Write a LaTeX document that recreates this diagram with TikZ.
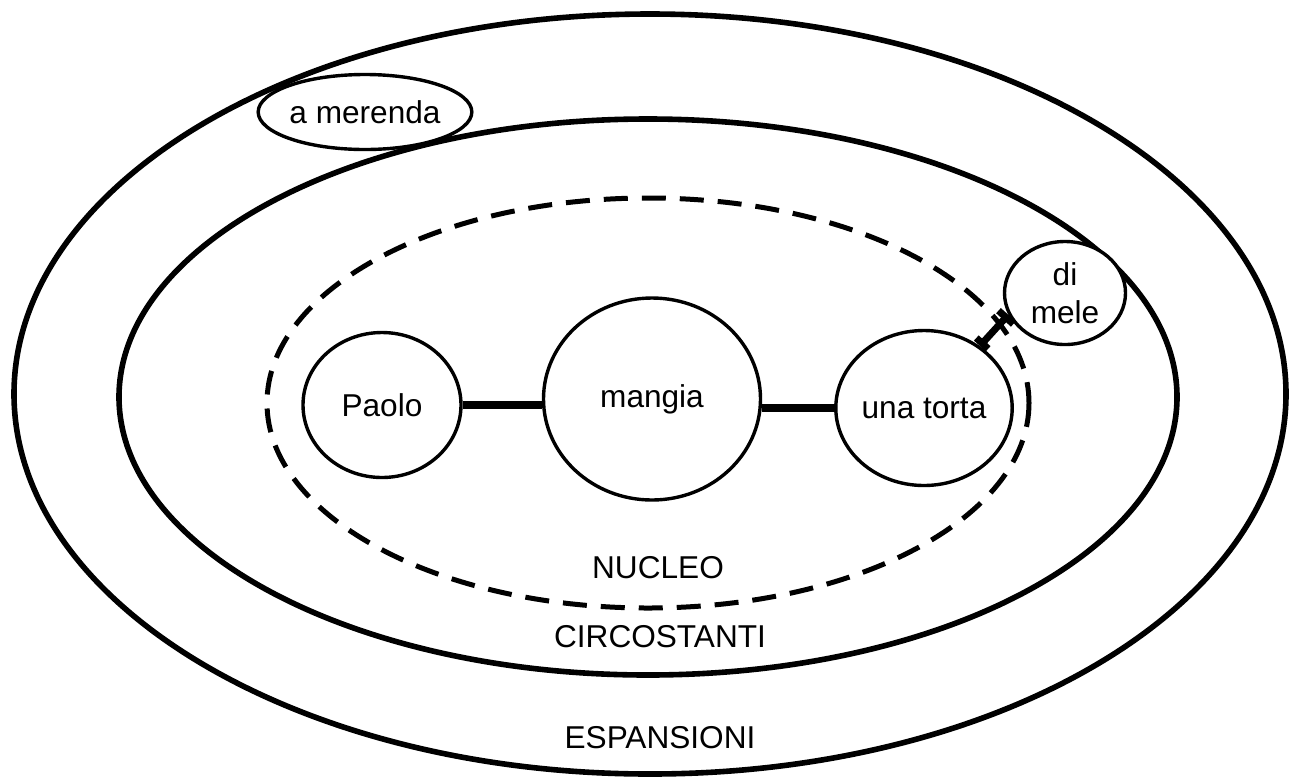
\documentclass[tikz,border=0pt]{standalone}
\usepackage{fontspec}
\setmainfont{Liberation Sans}
\usetikzlibrary{shapes.geometric,arrows.meta}

\begin{document}
\begin{tikzpicture}[x=0.5pt,y=-0.5pt,
        word/.style={draw,ellipse,line width=1.7pt,fill=white,inner sep=0pt,align=center,font=\fontsize{15.8}{19}\selectfont},
        level/.style={font=\fontsize{15.8}{19}\selectfont},
        link/.style={line width=3.8pt}]
        \useasboundingbox (0,0) rectangle (1290,778);
        % the three zones
        \draw[line width=2.8pt] (650,394) ellipse (636 and 380);
        \draw[line width=2.8pt] (648,397) ellipse (529 and 278);
        \draw[line width=2.5pt,dash pattern=on 12pt off 7pt] (648,403) ellipse (381 and 205);
        \node[level] (nucleo) at (658,568) {NUCLEO};
        \node[level] (circ) at (660,637) {CIRCOSTANTI};
        \node[level] (esp) at (660,738) {ESPANSIONI};
        % words
        \node[word,minimum width=79pt,minimum height=72.5pt] (paolo) at (382,405) {Paolo};
        \node[word,minimum width=108.5pt,minimum height=101pt] (mangia) at (652,399) {mangia};
        \node[word,minimum width=82pt,minimum height=77.5pt] (torta) at (924,408) {una torta};
        \node[word,minimum width=60.5pt,minimum height=51.5pt] (mele) at (1065,293) {di\\mele};
        \node[word,minimum width=104pt,minimum height=37.5pt] (merenda) at (365,112) {a merenda};
        \draw[link] (paolo.east) -- (paolo.east -| mangia.west);
        \draw[link] (torta.west -| mangia.east) -- (torta.west);
        \draw[line width=3.5pt,{Bar[width=8pt]}-{Bar[width=10pt]}] (torta.48) -- (mele.201);
\end{tikzpicture}
\end{document}
